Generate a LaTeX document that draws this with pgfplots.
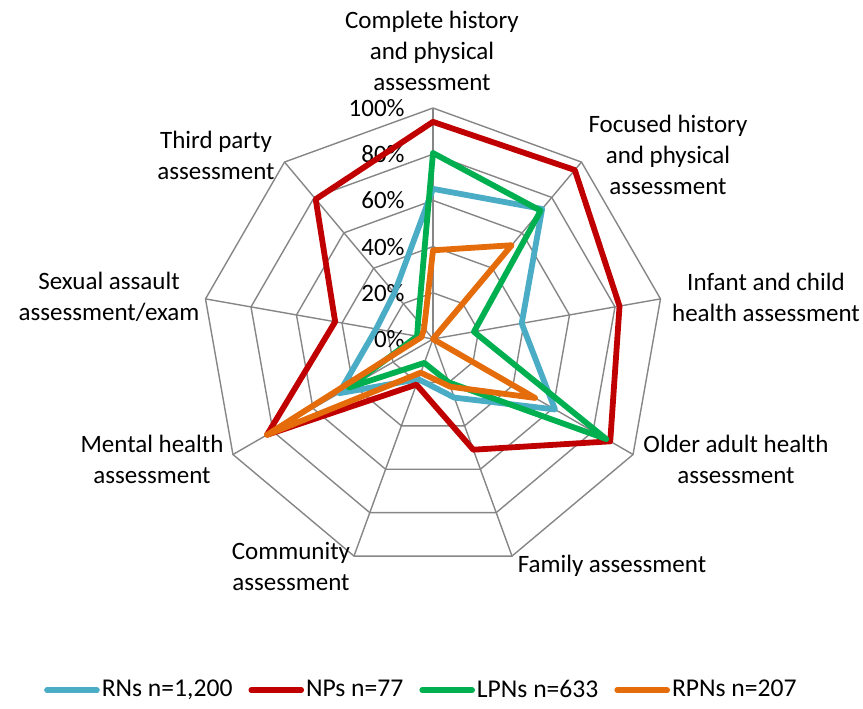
\documentclass[border=0pt]{standalone}
\usepackage{fontspec}
\setmainfont{Carlito}
\usepackage{pgfplots}
\pgfplotsset{compat=1.18}
\usepgfplotslibrary{polar}
\usetikzlibrary{calc}
\definecolor{rn}{HTML}{4BACC6}
\definecolor{np}{HTML}{C00000}
\definecolor{lpn}{HTML}{00B050}
\definecolor{rpn}{HTML}{E46C0A}
\definecolor{gridc}{HTML}{868686}
\begin{document}
\begin{tikzpicture}
\begin{polaraxis}[
  hide axis, clip=false,
  scale only axis, width=231pt, height=231pt,
  xmin=0, xmax=360, ymin=0, ymax=100,
  legend columns=4,
  legend style={at={(axis description cs:0.477,-0.26)}, anchor=center, draw=none, fill=none,
    font=\fontsize{12.8}{15}\selectfont,
    /tikz/every even column/.append style={column sep=6pt},
    /tikz/every odd column/.append style={column sep=-1pt}},
  legend image code/.code={\draw[#1, line width=2.8pt, line cap=round] (0pt,0pt) -- (25pt,0pt);},
]
\coordinate (C) at (axis cs:0,0);
% web
\pgfplotsinvokeforeach{20,40,60,80,100}{
  \addplot[gridc, line width=0.7pt, forget plot] coordinates {(90,#1) (50,#1) (10,#1) (330,#1) (290,#1) (250,#1) (210,#1) (170,#1) (130,#1) (90,#1)};
}
\pgfplotsinvokeforeach{50,10,330,290,250,210,170,130}{
  \addplot[gridc, line width=0.7pt, forget plot] coordinates {(#1,0) (#1,100)};
}
\addplot[gridc, line width=1.3pt, forget plot] coordinates {(90,0) (90,100)};
% radial labels
\node[anchor=east, inner sep=0pt, xshift=-14pt, font=\fontsize{12.5}{15}\selectfont] at (axis cs:90,0) {0\%};
\node[anchor=east, inner sep=0pt, xshift=-14pt, font=\fontsize{12.5}{15}\selectfont] at (axis cs:90,20) {20\%};
\node[anchor=east, inner sep=0pt, xshift=-14pt, font=\fontsize{12.5}{15}\selectfont] at (axis cs:90,40) {40\%};
\node[anchor=east, inner sep=0pt, xshift=-14pt, font=\fontsize{12.5}{15}\selectfont] at (axis cs:90,60) {60\%};
\node[anchor=east, inner sep=0pt, xshift=-14pt, font=\fontsize{12.5}{15}\selectfont] at (axis cs:90,80) {80\%};
\node[anchor=east, inner sep=0pt, xshift=-14pt, font=\fontsize{12.5}{15}\selectfont] at (axis cs:90,100) {100\%};
% series
\addplot[rn, line width=2.9pt, line join=round, line cap=round] coordinates {(90,65) (50,73.5) (10,39) (330,61) (290,27) (250,18.5) (210,47) (170,25) (130,26) (90,65)};
\addlegendentry{RNs n=1,200}
\addplot[np, line width=2.9pt, line join=round, line cap=round] coordinates {(90,94) (50,95.5) (10,82) (330,88.6) (290,51) (250,21) (210,83) (170,43) (130,79) (90,94)};
\addlegendentry{NPs n=77}
\addplot[lpn, line width=2.9pt, line join=round, line cap=round] coordinates {(90,80.5) (50,72.5) (10,18) (330,86.6) (290,20) (250,11) (210,42) (170,7) (130,10) (90,80.5)};
\addlegendentry{LPNs n=633}
\addplot[rpn, line width=2.9pt, line join=round, line cap=round] coordinates {(90,38.4) (50,53) (10,0) (330,51) (290,22) (250,15.5) (210,83) (170,5) (130,6) (90,38.4)};
\addlegendentry{RPNs n=207}
\end{polaraxis}
\begin{scope}[every node/.style={align=center, font=\fontsize{12.5}{15.5}\selectfont, inner sep=0pt}]
\node at ($(C)+(-0.5pt,144pt)$) {Complete history\\and physical\\assessment};
\node at ($(C)+(117.5pt,92pt)$) {Focused history\\and physical\\assessment};
\node at ($(C)+(166.5pt,21pt)$) {Infant and child\\health assessment};
\node at ($(C)+(151.5pt,-60pt)$) {Older adult health\\assessment};
\node at ($(C)+(89.5pt,-113.5pt)$) {Family assessment};
\node at ($(C)+(-71pt,-113.5pt)$) {Community\\assessment};
\node at ($(C)+(-140.5pt,-60pt)$) {Mental health\\assessment};
\node at ($(C)+(-162pt,21pt)$) {Sexual assault\\assessment/exam};
\node at ($(C)+(-108.5pt,92pt)$) {Third party\\assessment};
\end{scope}
\path[use as bounding box] ($(C)+(-216.5pt,-182pt)$) rectangle ($(C)+(215pt,169.5pt)$);
\end{tikzpicture}
\end{document}
